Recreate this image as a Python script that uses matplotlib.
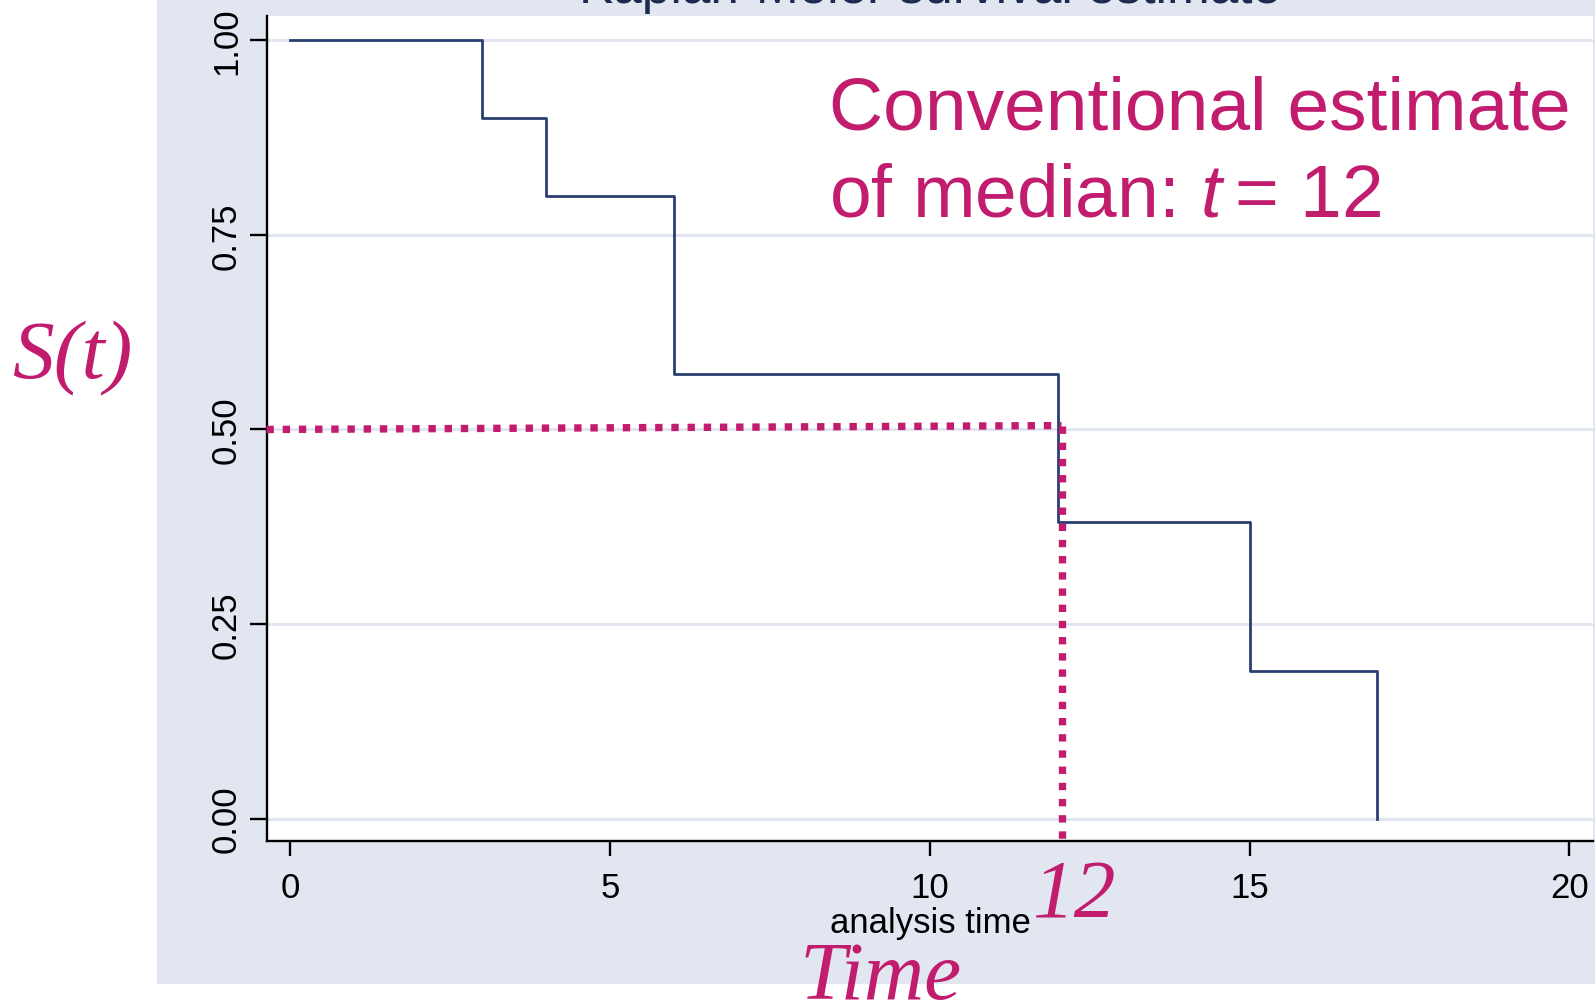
import matplotlib
matplotlib.use('Agg')
import matplotlib.pyplot as plt
from matplotlib.patches import Rectangle

# Kaplan-Meier step data
times = [0, 3, 4, 6, 12, 15, 17]
surv = [1.0, 0.9, 0.8, 0.571, 0.381, 0.190, 0.0]

xticks = [0, 5, 10, 15, 20]
yticks = [0.0, 0.25, 0.5, 0.75, 1.0]
ytick_labels = ['0.00', '0.25', '0.50', '0.75', '1.00']

# hand drawn median guide (slightly tilted in the original)
median_x = 12.06
median_y = [0.500, 0.505]

W, H = 1595, 1004
pink = '#c11c6d'
navy = '#2a3f6f'
bg = '#e2e6f0'

plt.rcParams['font.family'] = ['Liberation Sans', 'DejaVu Sans']
plt.rcParams['mathtext.fontset'] = 'custom'
plt.rcParams['mathtext.rm'] = 'Liberation Sans'
plt.rcParams['mathtext.it'] = 'Liberation Sans:italic'

fig = plt.figure(figsize=(W / 100, H / 100), dpi=100, facecolor='white')

# light panel behind the plot
fig.patches.append(Rectangle((157 / W, (H - 984.6) / H), 1 - 157 / W, 984.6 / H,
                             transform=fig.transFigure, facecolor=bg,
                             edgecolor='none', zorder=-10))

ax = fig.add_axes([266.5 / W, (H - 841.7) / H, (1593 - 266.5) / W, (841.7 - 17.3) / H])
ax.set_zorder(1)
ax.set_facecolor('white')
ax.set_xlim(-0.37, 20.37)
ax.set_ylim(-0.0283, 1.0308)

for s in ['top', 'right']:
    ax.spines[s].set_visible(False)
for s in ['left', 'bottom']:
    ax.spines[s].set_linewidth(1.7)

ax.set_xticks(xticks)
ax.set_xticklabels([str(t) for t in xticks])
ax.set_yticks(yticks)
ax.set_yticklabels(ytick_labels, rotation=90, va='center')
ax.tick_params(axis='x', length=11, width=1.7, pad=11, labelsize=25)
ax.tick_params(axis='y', length=12, width=1.7, pad=5, labelsize=25)

for y in yticks:
    ax.axhline(y, color='#dfe4ef', lw=2, zorder=1)

ax.step(times, surv, where='post', color=navy, lw=2, zorder=3)

# dotted median guides
ax.plot([-0.37, median_x], median_y, color=pink, lw=5.3,
        linestyle=(0, (1, 1.2)), dash_capstyle='butt', zorder=4, clip_on=False)
ax.plot([median_x, median_x], [median_y[1], -0.0283], color=pink, lw=5.3,
        linestyle=(0, (1, 1.2)), dash_capstyle='butt', zorder=4, clip_on=False)

# title, mostly cut off at the top
fig.text(930 / W, 1 - 3 / H, 'Kaplan-Meier survival estimate', ha='center',
         va='baseline', fontsize=37, color='#1c2b4f')

fig.text(930 / W, 1 - 933 / H, 'analysis time', ha='center', va='baseline',
         fontsize=25, color='black')

ax.text(829 / W, 1 - 130 / H, 'Conventional estimate', transform=fig.transFigure,
        ha='left', va='baseline', fontsize=54, color=pink, zorder=5)
ax.text(829 / W, 1 - 216.7 / H, r'of median: $t\:$= 12', transform=fig.transFigure,
        ha='left', va='baseline', fontsize=54, color=pink, zorder=5)

serif = ['Liberation Serif', 'DejaVu Serif']
fig.text(72 / W, 1 - 378 / H, 'S(t)', ha='center', va='baseline', fontsize=60,
         family=serif, style='italic', color=pink)
fig.text(1074 / W, 1 - 917.5 / H, '12', ha='center', va='baseline', fontsize=60,
         family=serif, style='italic', color=pink)
fig.text(881 / W, 1 - 999 / H, 'Time', ha='center', va='baseline', fontsize=60,
         family=serif, style='italic', color=pink)

fig.savefig('out.png', dpi=100)
